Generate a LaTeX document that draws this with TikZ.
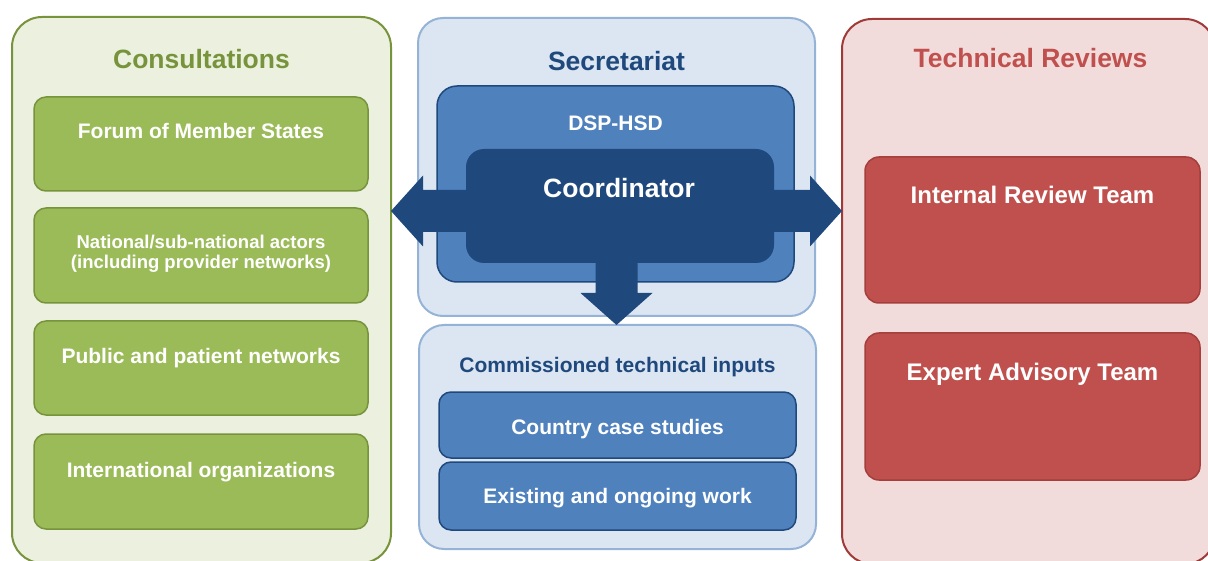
\documentclass[tikz,border=0pt]{standalone}
\usepackage{fontspec}
\setmainfont{Liberation Sans}
\usetikzlibrary{calc}
\definecolor{gpanel}{HTML}{EBF1DE}
\definecolor{gborder}{HTML}{77933C}
\definecolor{gbox}{HTML}{9BBB59}
\definecolor{bpanel}{HTML}{DCE6F2}
\definecolor{bborder}{HTML}{95B3D7}
\definecolor{bmid}{HTML}{4F81BD}
\definecolor{bdark}{HTML}{1F497D}
\definecolor{rpanel}{HTML}{F2DCDB}
\definecolor{rborder}{HTML}{9E3B39}
\definecolor{rbox}{HTML}{C0504D}
\definecolor{rboxborder}{HTML}{A33F3C}
\begin{document}
\begin{tikzpicture}[x=1pt,y=-1pt,
  boxbase/.style={rectangle, anchor=north west, inner sep=0pt, outer sep=0pt},
  panel/.style={boxbase, rounded corners=30pt, line width=2pt},
  gpanelst/.style={panel, fill=gpanel, draw=gborder},
  bpanelst/.style={boxbase, rounded corners=25pt, line width=2pt, fill=bpanel, draw=bborder},
  rpanelst/.style={panel, fill=rpanel, draw=rborder},
  gboxst/.style={boxbase, rounded corners=12pt, line width=1.5pt, fill=gbox, draw=gborder},
  rboxst/.style={boxbase, rounded corners=14pt, line width=1.5pt, fill=rbox, draw=rboxborder},
  bmidst/.style={boxbase, rounded corners=12pt, line width=1.5pt, fill=bmid, draw=bdark},
  title/.style={anchor=base, inner sep=0pt, font=\fontsize{26.5}{30}\selectfont\bfseries},
  lbl/.style={anchor=base, inner sep=0pt, text=white, font=\fontsize{21}{24}\selectfont\bfseries},
  rlbl/.style={lbl, font=\fontsize{24}{27}\selectfont\bfseries},
  arr/.style={fill=bdark, draw=none}
]
\useasboundingbox (0,0) rectangle (1208,561);

% Consultations panel
\node[gpanelst, minimum width=379pt, minimum height=546pt] (cons) at (12,17) {};
\node[title, text=gborder] (consT) at ($(cons.north)+(0,52)$) {Consultations};
\node[gboxst, minimum width=334pt, minimum height=94pt] (forum) at (34,97) {};
\node[lbl] (forumL) at ($(forum.north)+(0,42)$) {Forum of Member States};
\node[gboxst, minimum width=334pt, minimum height=95pt] (nat) at (34,208) {};
\node[anchor=center, inner sep=0pt, text=white, align=center,
      font=\fontsize{18.5}{20}\selectfont\bfseries] (natL) at ($(nat.north)+(0,46)$)
      {National/sub-national actors\\(including provider networks)};
\node[gboxst, minimum width=334pt, minimum height=94pt] (pub) at (34,321) {};
\node[lbl] (pubL) at ($(pub.north)+(0,43)$) {Public and patient networks};
\node[gboxst, minimum width=334pt, minimum height=95pt] (intl) at (34,434) {};
\node[lbl] (intlL) at ($(intl.north)+(0,43)$) {International organizations};

% Secretariat panel
\node[bpanelst, minimum width=397pt, minimum height=298pt] (sec) at (418,18) {};
\node[title, text=bdark] (secT) at ($(sec.north)+(0,53)$) {Secretariat};
\node[bmidst, rounded corners=20pt, minimum width=357pt, minimum height=196pt] (dsp) at (437,86) {};
\node[lbl] (dspL) at ($(dsp.north)+(0,45)$) {DSP-HSD};
\node[boxbase, rounded corners=18pt, fill=bdark, minimum width=308pt, minimum height=114pt] (coord) at (466,149) {};

% Commissioned technical inputs panel
\node[bpanelst, minimum width=397pt, minimum height=224pt] (cit) at (419,325) {};
\node[title, text=bdark, font=\fontsize{21}{24}\selectfont\bfseries] (citT) at ($(cit.north)+(0,48)$) {Commissioned technical inputs};
\node[bmidst, minimum width=357pt, minimum height=66pt] (ccs) at (439,392) {};
\node[lbl] (ccsL) at ($(ccs.north)+(0,42)$) {Country case studies};
\node[bmidst, minimum width=357pt, minimum height=68pt] (eow) at (439,462) {};
\node[lbl] (eowL) at ($(eow.north)+(0,41)$) {Existing and ongoing work};

% Technical Reviews panel
\node[rpanelst, minimum width=373pt, minimum height=545pt] (rev) at (842,19) {};
\node[rboxst, minimum width=335pt, minimum height=146pt] (irt) at (865,157) {};
\node[title, text=rbox] (revT) at ($(irt.north)+(-2,-89)$) {Technical Reviews};
\node[rlbl] (irtL) at ($(irt.north)+(0,47)$) {Internal Review Team};
\node[rboxst, minimum width=335pt, minimum height=147pt] (eat) at (865,333) {};
\node[rlbl] (eatL) at ($(eat.north)+(0,48)$) {Expert Advisory Team};

% Arrows from the coordinator
\coordinate (ay) at (0,211);
\coordinate (ltip) at (cons.east |- ay);
\coordinate (rtip) at (rev.west |- ay);
\coordinate (dtip) at (sec.north |- cit.north);
\fill[arr] (ltip) -- ++(32,-35.5) -- ++(0,14.5) -- ++(60,0) -- ++(0,42) -- ++(-60,0) -- ++(0,14.5) -- cycle;
\fill[arr] (rtip) -- ++(-32,-35.5) -- ++(0,14.5) -- ++(-60,0) -- ++(0,42) -- ++(60,0) -- ++(0,14.5) -- cycle;
\fill[arr] (dtip) -- ++(-36,-32) -- ++(15,0) -- ++(0,-45) -- ++(42,0) -- ++(0,45) -- ++(15,0) -- cycle;
\node[lbl, font=\fontsize{26.5}{30}\selectfont\bfseries] (coordL) at ($(coord.north)+(-1,49)$) {Coordinator};
\end{tikzpicture}
\end{document}
